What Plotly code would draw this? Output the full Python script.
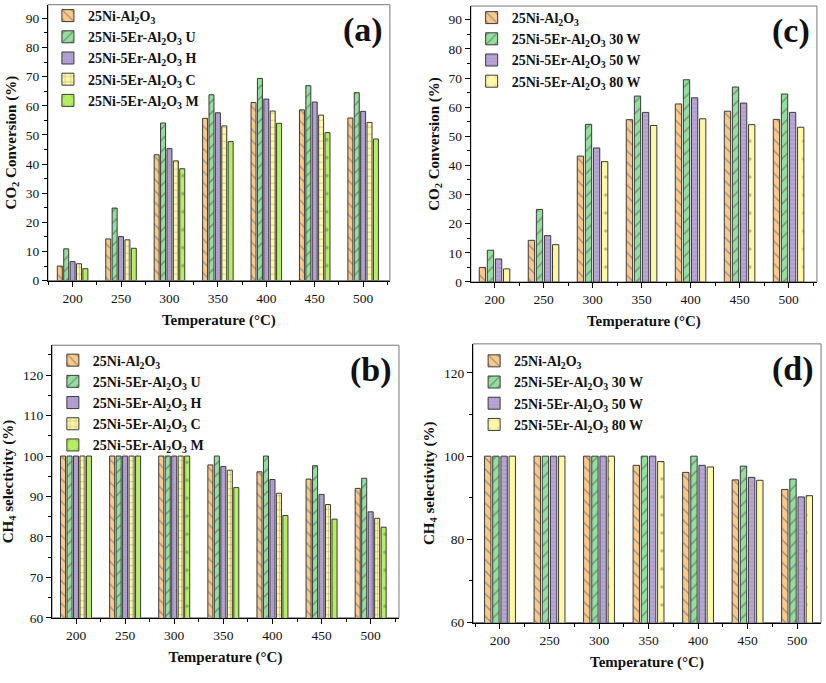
import plotly.graph_objects as go

temps = [200, 250, 300, 350, 400, 450, 500]

# Panel (a): CO2 conversion (%)
a_ni = [5.0, 14.3, 43.2, 55.7, 61.1, 58.6, 55.8]
a_u = [10.9, 24.9, 54.1, 63.8, 69.4, 66.9, 64.5]
a_h = [6.5, 15.1, 45.3, 57.6, 62.3, 61.3, 58.1]
a_c = [5.8, 14.0, 41.1, 53.1, 58.2, 56.8, 54.3]
a_m = [4.1, 11.1, 38.4, 47.7, 54.0, 50.8, 48.6]

# Panel (b): CH4 selectivity (%)
b_ni = [100, 100, 100, 97.8, 96.1, 94.3, 92.0]
b_u = [100, 100, 100, 100, 100, 97.6, 94.5]
b_h = [100, 100, 100, 97.4, 94.2, 90.5, 86.2]
b_c = [100, 100, 100, 96.5, 90.8, 88.0, 84.6]
b_m = [100, 100, 100, 92.2, 85.3, 84.4, 82.4]

# Panel (c): CO2 conversion (%)
c_ni = [5.0, 14.3, 43.2, 55.7, 61.1, 58.6, 55.8]
c_30 = [10.9, 24.9, 54.1, 63.8, 69.4, 66.9, 64.5]
c_50 = [7.9, 15.9, 46.0, 58.2, 63.2, 61.4, 58.2]
c_80 = [4.5, 12.8, 41.3, 53.7, 56.0, 54.0, 53.1]

# Panel (d): CH4 selectivity (%)
d_ni = [100, 100, 100, 97.8, 96.1, 94.3, 92.0]
d_30 = [100, 100, 100, 100, 100, 97.6, 94.5]
d_50 = [100, 100, 100, 100, 97.8, 94.9, 90.2]
d_80 = [100, 100, 100, 98.7, 97.4, 94.2, 90.5]

AL = "Al<sub>2</sub>O<sub>3</sub>"
n_ni = "25Ni-" + AL
n_er = "25Ni-5Er-" + AL

SERIF = "Liberation Serif, Times New Roman, serif"

styles = {
    "ni": dict(color="#F9C98B", shape="\\", size=8, solidity=0.18, fg="#555555"),
    "u": dict(color="#94DE9E", shape="/", size=8, solidity=0.18, fg="#444444"),
    "h": dict(color="#B9A7D7", shape=".", size=3, solidity=0.45, fg="#8E7FB0"),
    "c": dict(color="#FFF8A6", shape="+", size=7, solidity=0.15, fg="#555555"),
    "m": dict(color="#B5EE5E", shape=".", size=18, solidity=0.03, fg="#557733"),
    "w50": dict(color="#B9A7D7", shape="-", size=4, solidity=0.25, fg="#8E7FB0"),
    "w80": dict(color="#FFF8A6", shape=".", size=18, solidity=0.03, fg="#887733"),
}

fig = go.Figure()

def add(x, y, name, st, xa, ya, leg):
    s = styles[st]
    fig.add_trace(go.Bar(
        x=x, y=y, name=name, xaxis=xa, yaxis=ya, legend=leg,
        marker=dict(color=s["color"], line=dict(color="#3a3a3a", width=1),
                    pattern=dict(shape=s["shape"], size=s["size"], solidity=s["solidity"],
                                 fgcolor=s["fg"], fillmode="overlay")),
    ))

add(temps, a_ni, n_ni, "ni", "x", "y", "legend")
add(temps, a_u, n_er + " U", "u", "x", "y", "legend")
add(temps, a_h, n_er + " H", "h", "x", "y", "legend")
add(temps, a_c, n_er + " C", "c", "x", "y", "legend")
add(temps, a_m, n_er + " M", "m", "x", "y", "legend")

add(temps, b_ni, n_ni, "ni", "x2", "y2", "legend2")
add(temps, b_u, n_er + " U", "u", "x2", "y2", "legend2")
add(temps, b_h, n_er + " H", "h", "x2", "y2", "legend2")
add(temps, b_c, n_er + " C", "c", "x2", "y2", "legend2")
add(temps, b_m, n_er + " M", "m", "x2", "y2", "legend2")

add(temps, c_ni, n_ni, "ni", "x3", "y3", "legend3")
add(temps, c_30, n_er + " 30 W", "u", "x3", "y3", "legend3")
add(temps, c_50, n_er + " 50 W", "w50", "x3", "y3", "legend3")
add(temps, c_80, n_er + " 80 W", "w80", "x3", "y3", "legend3")

add(temps, d_ni, n_ni, "ni", "x4", "y4", "legend4")
add(temps, d_30, n_er + " 30 W", "u", "x4", "y4", "legend4")
add(temps, d_50, n_er + " 50 W", "w50", "x4", "y4", "legend4")
add(temps, d_80, n_er + " 80 W", "w80", "x4", "y4", "legend4")

tickfont = dict(family=SERIF, size=13.5, color="#111")
titlefont = dict(family=SERIF, size=15, color="#111", weight="bold")

def xaxis(dom, anchor, rng):
    return dict(domain=dom, anchor=anchor, range=rng, tickmode="linear", tick0=200, dtick=50,
                ticks="outside", ticklen=5, tickcolor="black", showline=True, linecolor="black",
                showgrid=False, zeroline=False, tickfont=tickfont,
                minor=dict(ticks="outside", ticklen=3, tickcolor="black", dtick=25, tick0=200),
                title=dict(text="Temperature (°C)", font=titlefont, standoff=9))

def yaxis(dom, anchor, rng, dtick, mdt, title):
    return dict(domain=dom, anchor=anchor, range=rng, tickmode="linear", tick0=0, dtick=dtick,
                ticks="outside", ticklen=5, tickcolor="black", showline=True, linecolor="black",
                showgrid=False, zeroline=False, tickfont=tickfont,
                minor=dict(ticks="outside", ticklen=3, tickcolor="black", dtick=mdt, tick0=0),
                title=dict(text=title, font=titlefont, standoff=5))

co2 = "CO<sub>2</sub> Conversion (%)"
ch4 = "CH<sub>4</sub> selectivity (%)"

legfont = dict(family=SERIF, size=14, color="#111", weight="bold")

def legend(x, y):
    return dict(x=x, y=y, xanchor="left", yanchor="top", bgcolor="rgba(0,0,0,0)",
                font=legfont, tracegroupgap=0, itemwidth=30)

fig.update_layout(
    width=826, height=683, margin=dict(l=0, r=0, t=0, b=0),
    paper_bgcolor="white", plot_bgcolor="white",
    barmode="group", bargap=0.34, bargroupgap=0.22,
    xaxis=xaxis([0.058, 0.472], "y", [174.5, 527.6]),
    yaxis=yaxis([0.586, 0.996], "x", [0, 94.7], 10, 5, co2),
    xaxis2=xaxis([0.063, 0.483], "y2", [175.6, 528.8]),
    yaxis2=yaxis([0.085, 0.490], "x2", [60, 127.4], 10, 5, ch4),
    xaxis3=xaxis([0.570, 0.989], "y3", [175.8, 528.9]),
    yaxis3=yaxis([0.584, 0.994], "x3", [0, 94.7], 10, 5, co2),
    xaxis4=xaxis([0.5726, 0.994], "y4", [172.7, 524.2]),
    yaxis4=yaxis([0.078, 0.492], "x4", [60, 127], 20, 10, ch4),
    legend=legend(0.058, 1.003),
    legend2=legend(0.064, 0.491),
    legend3=legend(0.571, 1.000),
    legend4=legend(0.574, 0.490),
)

for xa, ya in [("x", "y"), ("x2", "y2"), ("x3", "y3"), ("x4", "y4")]:
    fig.add_shape(type="rect", xref=xa + " domain", yref=ya + " domain", x0=0, x1=1, y0=0, y1=1,
                  line=dict(color="#777777", width=1), layer="below")

labels = [("(a)", "x", "y"), ("(b)", "x2", "y2"), ("(c)", "x3", "y3"), ("(d)", "x4", "y4")]
for t, xa, ya in labels:
    fig.add_annotation(text=t, xref=xa + " domain", yref=ya + " domain", x=0.985, y=0.985,
                       xanchor="right", yanchor="top", showarrow=False,
                       font=dict(family=SERIF, size=34, color="#111", weight="bold"))

fig.write_html("out.html")
